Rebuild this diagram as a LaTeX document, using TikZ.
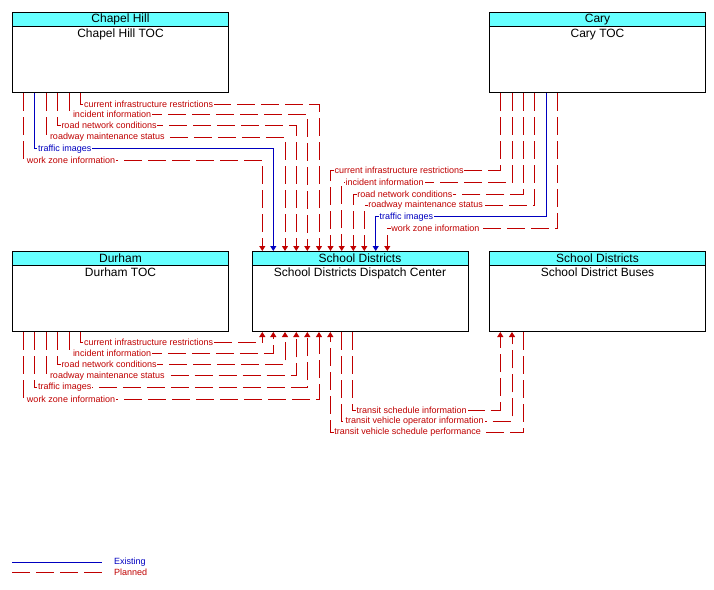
\documentclass[tikz,border=0pt]{standalone}
\usepackage{fontspec}
\setmainfont{Liberation Sans}
\usetikzlibrary{arrows.meta,calc}
\definecolor{pl}{RGB}{192,0,0}
\definecolor{ex}{RGB}{0,0,192}
\definecolor{hd}{RGB}{102,255,255}
\begin{document}
\begin{tikzpicture}[x=1pt,y=-1pt,
  box/.style={draw,line width=1pt,minimum width=216pt,minimum height=80pt,anchor=north west,inner sep=0pt},
  hdr/.style={draw,line width=1pt,fill=hd,minimum width=216pt,minimum height=14pt,anchor=north,inner sep=0pt,font=\fontsize{12}{14}\selectfont},
  bodytxt/.style={anchor=north,inner sep=0pt,font=\fontsize{12}{14}\selectfont,yshift=-2pt},
  planned/.style={draw=pl,line width=1pt,dash pattern=on 18pt off 6pt},
  existing/.style={draw=ex,line width=1pt},
  arr/.style={-{Triangle[length=5pt,width=6pt]}},
  flab/.style={font=\fontsize{9}{10}\selectfont,fill=white,inner sep=0.8pt,anchor=west},
  plab/.style={flab,text=pl},
  elab/.style={flab,text=ex}
]
\useasboundingbox (0,0) rectangle (714,589);

% boxes
\node[box] (ch) at (12,12) {};
\node[hdr] (chh) at (ch.north) {Chapel Hill};
\node[bodytxt] (chb) at (chh.south) {Chapel Hill TOC};

\node[box] (ca) at (489,12) {};
\node[hdr] (cah) at (ca.north) {Cary};
\node[bodytxt] (cab) at (cah.south) {Cary TOC};

\node[box] (du) at (12,251) {};
\node[hdr] (duh) at (du.north) {Durham};
\node[bodytxt] (dub) at (duh.south) {Durham TOC};

\node[box] (sd) at (251.5,251) {};
\node[hdr] (sdh) at (sd.north) {School Districts};
\node[bodytxt] (sdb) at (sdh.south) {School Districts Dispatch Center};

\node[box] (bu) at (489,251) {};
\node[hdr] (buh) at (bu.north) {School Districts};
\node[bodytxt] (bub) at (buh.south) {School District Buses};

% Chapel Hill -> Dispatch
\draw[planned,arr] (80.3,0 |- ch.south) -- (80.3,104) -| (319,0 |- sd.north);
\draw[planned,arr] (69.3,0 |- ch.south) -- (69.3,114.3) -| (307.3,0 |- sd.north);
\draw[planned,arr] (57.7,0 |- ch.south) -- (57.7,125.5) -| (296.3,0 |- sd.north);
\draw[planned,arr] (46.3,0 |- ch.south) -- (46.3,137.5) -| (285,0 |- sd.north);
\draw[existing,arr] (34.3,0 |- ch.south) -- (34.3,148.7) -| (273.3,0 |- sd.north);
\draw[planned,arr] (23.3,0 |- ch.south) -- (23.3,160) -| (262.3,0 |- sd.north);

\node[plab] (c1) at (83,104) {current infrastructure restrictions};
\node[plab] (c2) at (72,114.3) {incident information};
\node[plab] (c3) at (60.5,125.5) {road network conditions};
\node[plab] (c4) at (49,137.5) {roadway maintenance status};
\node[elab] (c5) at (37,148.7) {traffic images};
\node[plab] (c6) at (26,160) {work zone information};

% Cary -> Dispatch
\draw[planned,arr] (500.3,0 |- ca.south) -- (500.3,170.7) -| (330.5,0 |- sd.north);
\draw[planned,arr] (512.3,0 |- ca.south) -- (512.3,182.3) -| (341.7,0 |- sd.north);
\draw[planned,arr] (523.3,0 |- ca.south) -- (523.3,194) -| (353.3,0 |- sd.north);
\draw[planned,arr] (534.3,0 |- ca.south) -- (534.3,205.5) -| (364.3,0 |- sd.north);
\draw[existing,arr] (546.3,0 |- ca.south) -- (546.3,216.7) -| (375.7,0 |- sd.north);
\draw[planned,arr] (557.3,0 |- ca.south) -- (557.3,228.3) -| (387.3,0 |- sd.north);

\node[plab] (k1) at (333.5,170.7) {current infrastructure restrictions};
\node[plab] (k2) at (344.7,182.3) {incident information};
\node[plab] (k3) at (356.3,194) {road network conditions};
\node[plab] (k4) at (367.3,205.5) {roadway maintenance status};
\node[elab] (k5) at (378.7,216.7) {traffic images};
\node[plab] (k6) at (390.3,228.3) {work zone information};

% Durham -> Dispatch
\draw[planned,arr] (80.3,0 |- du.south) -- (80.3,342) -| (262.3,0 |- sd.south);
\draw[planned,arr] (69.3,0 |- du.south) -- (69.3,353.5) -| (273.3,0 |- sd.south);
\draw[planned,arr] (57.7,0 |- du.south) -- (57.7,364.5) -| (285,0 |- sd.south);
\draw[planned,arr] (46.3,0 |- du.south) -- (46.3,375.7) -| (296.3,0 |- sd.south);
\draw[planned,arr] (34.3,0 |- du.south) -- (34.3,387.5) -| (307.3,0 |- sd.south);
\draw[planned,arr] (23.3,0 |- du.south) -- (23.3,399) -| (319,0 |- sd.south);

\node[plab] (d1) at (83,342) {current infrastructure restrictions};
\node[plab] (d2) at (72,353.5) {incident information};
\node[plab] (d3) at (60.5,364.5) {road network conditions};
\node[plab] (d4) at (49,375.7) {roadway maintenance status};
\node[plab] (d5) at (37,387.5) {traffic images};
\node[plab] (d6) at (26,399) {work zone information};

% Dispatch <-> Buses
\draw[planned,arr] (352.7,0 |- sd.south) -- (352.7,410) -| (500.3,0 |- bu.south);
\draw[planned,arr] (341.7,0 |- sd.south) -- (341.7,421) -| (512,0 |- bu.south);
\draw[planned,arr] (523.3,0 |- bu.south) -- (523.3,432.3) -| (330.3,0 |- sd.south);

\node[plab] (t1) at (355.7,410) {transit schedule information};
\node[plab] (t2) at (344.7,421) {transit vehicle operator information};
\node[plab] (t3) at (333.3,432.3) {transit vehicle schedule performance};

% legend
\coordinate (lea) at (12,562.3);
\coordinate (leb) at (102,562.3);
\coordinate (lpa) at (12,572.3);
\coordinate (lpb) at (102,572.3);
\draw[existing] (lea) -- (leb);
\draw[planned] (lpa) -- (lpb);
\node[elab,fill=none] (lex) at (113,562.3) {Existing};
\node[plab,fill=none] (lpl) at (113,572.3) {Planned};
\end{tikzpicture}
\end{document}
